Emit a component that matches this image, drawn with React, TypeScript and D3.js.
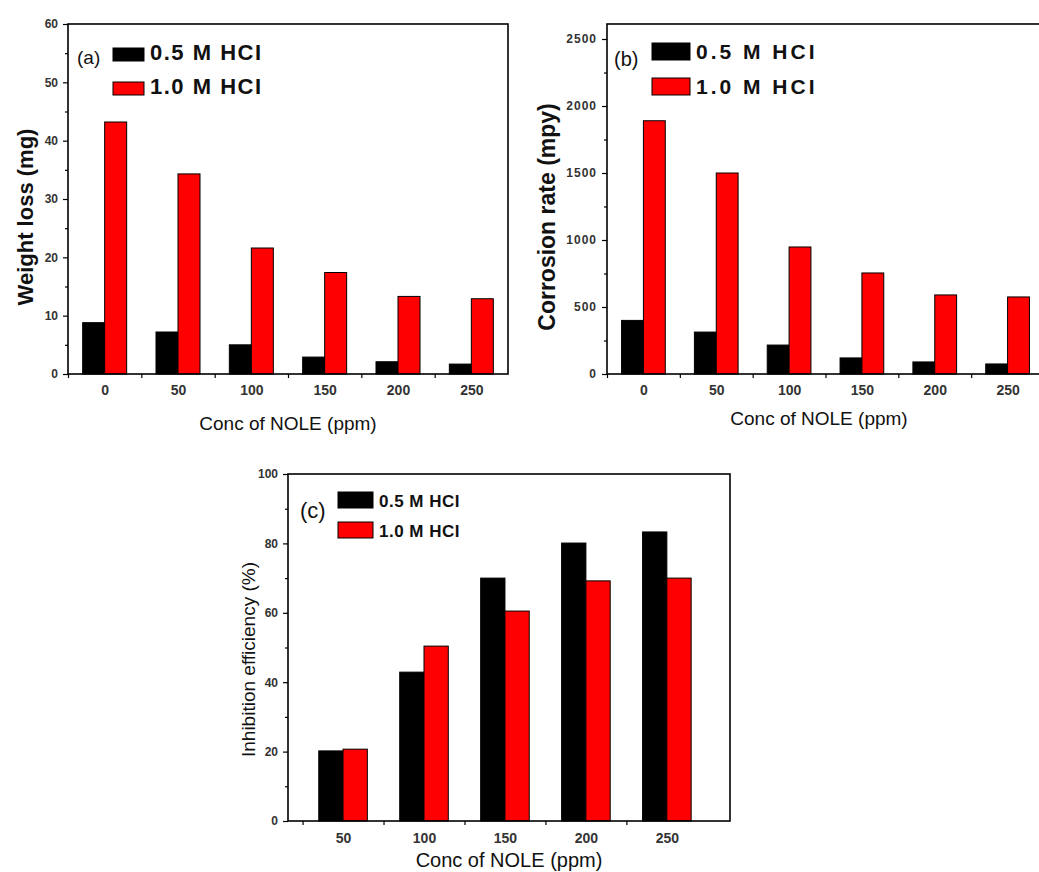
import React, { useEffect, useRef } from 'react';
import * as d3 from 'd3';

const concAB = [0, 50, 100, 150, 200, 250];
const weightLoss05 = [8.8, 7.2, 5.0, 2.9, 2.1, 1.7];
const weightLoss10 = [43.2, 34.3, 21.6, 17.4, 13.3, 12.9];
const corrosion05 = [400, 313, 216, 120, 90, 75];
const corrosion10 = [1890, 1500, 948, 754, 590, 575];
const concC = [50, 100, 150, 200, 250];
const efficiency05 = [20.2, 42.9, 70.0, 80.1, 83.3];
const efficiency10 = [20.7, 50.4, 60.5, 69.2, 70.0];
const seriesNames = ['0.5 M HCI', '1.0 M HCI'];
const seriesColors = ['#000000', '#ff0000'];
const yTicksA = [0, 10, 20, 30, 40, 50, 60];
const yTicksB = [0, 500, 1000, 1500, 2000, 2500];
const yTicksC = [0, 20, 40, 60, 80, 100];
const xLabel = 'Conc of NOLE (ppm)';

const FONT = '"Liberation Sans", Arial, sans-serif';
const BAR = 15; // bar width in ppm units

type Panel = {
  tag: string;
  categories: number[];
  values: number[][];
  yTicks: number[];
  yMinorStep: number;
  xDomain: [number, number];
  yDomain: [number, number];
  left: number; right: number; top: number; bottom: number;
  yTitle: string; yTitleBold: boolean; yTitleSize: number; yTitleX: number;
  xTitleY: number; xTitleSize: number;
  yTickSize: number; yTickSpacing: number; xTickSize: number; xTickY: number;
  legend: { tagX: number; tagY: number; tagSize: number; boxX: number; boxW: number; boxH: number; row1: number; row2: number; textSize: number; spacing: number };
};

const panels: Panel[] = [
  {
    tag: '(a)', categories: concAB, values: [weightLoss05, weightLoss10], yTicks: yTicksA, yMinorStep: 5,
    xDomain: [-25, 275], yDomain: [0, 60], left: 68, right: 508, top: 24, bottom: 374,
    yTitle: 'Weight loss (mg)', yTitleBold: true, yTitleSize: 22, yTitleX: 33,
    xTitleY: 430, xTitleSize: 19, yTickSize: 12, yTickSpacing: 0, xTickSize: 14, xTickY: 21,
    legend: { tagX: 77, tagY: 64, tagSize: 19, boxX: 113, boxW: 31, boxH: 13, row1: 48, row2: 82, textSize: 22, spacing: 1.5 },
  },
  {
    tag: '(b)', categories: concAB, values: [corrosion05, corrosion10], yTicks: yTicksB, yMinorStep: 250,
    xDomain: [-25, 275], yDomain: [0, 2612], left: 607, right: 1044, top: 24, bottom: 374,
    yTitle: 'Corrosion rate (mpy)', yTitleBold: true, yTitleSize: 23, yTitleX: 555,
    xTitleY: 425, xTitleSize: 19, yTickSize: 12, yTickSpacing: 1, xTickSize: 14, xTickY: 21,
    legend: { tagX: 614, tagY: 66, tagSize: 20, boxX: 652, boxW: 38, boxH: 17, row1: 43, row2: 78, textSize: 21, spacing: 3 },
  },
  {
    tag: '(c)', categories: concC, values: [efficiency05, efficiency10], yTicks: yTicksC, yMinorStep: 10,
    xDomain: [16, 289], yDomain: [0, 100], left: 288, right: 730, top: 474, bottom: 821,
    yTitle: 'Inhibition efficiency (%)', yTitleBold: false, yTitleSize: 19, yTitleX: 255,
    xTitleY: 867, xTitleSize: 20, yTickSize: 12, yTickSpacing: 0, xTickSize: 14, xTickY: 22,
    legend: { tagX: 300, tagY: 518, tagSize: 22, boxX: 338, boxW: 35, boxH: 16, row1: 492, row2: 522, textSize: 17, spacing: 0.5 },
  },
];

const drawPanel = (svg: d3.Selection<SVGSVGElement, unknown, null, undefined>, p: Panel) => {
  const g = svg.append('g');
  const x = d3.scaleLinear().domain(p.xDomain).range([p.left, p.right]);
  const y = d3.scaleLinear().domain(p.yDomain).range([p.bottom, p.top]);

  // bars
  p.values.forEach((vals, s) => {
    g.selectAll(null)
      .data(vals)
      .enter()
      .append('rect')
      .attr('x', (d, i) => x(p.categories[i] + (s === 0 ? -BAR : 0)))
      .attr('width', x(BAR) - x(0))
      .attr('y', (d) => y(d))
      .attr('height', (d) => y(0) - y(d))
      .attr('fill', seriesColors[s])
      .attr('stroke', '#000')
      .attr('stroke-width', 1);
  });

  // frame
  g.append('rect')
    .attr('x', p.left).attr('y', p.top)
    .attr('width', p.right - p.left).attr('height', p.bottom - p.top)
    .attr('fill', 'none').attr('stroke', '#000').attr('stroke-width', 1.6);

  // y axis
  const yAxis = g.append('g').attr('transform', `translate(${p.left},0)`)
    .call(d3.axisLeft(y).tickValues(p.yTicks).tickSize(5).tickPadding(5).tickFormat(d3.format('d')));
  const minors = d3.range(p.yDomain[0] + p.yMinorStep, p.yTicks[p.yTicks.length - 1], p.yMinorStep * 2);
  const yMinor = g.append('g').attr('transform', `translate(${p.left},0)`)
    .call(d3.axisLeft(y).tickValues(minors).tickSize(3).tickFormat(() => ''));
  [yAxis, yMinor].forEach((a) => a.select('.domain').remove());
  yAxis.selectAll('text')
    .attr('font-family', FONT).attr('font-size', p.yTickSize).attr('font-weight', 'bold')
    .attr('letter-spacing', p.yTickSpacing).attr('fill', '#333');

  // x axis: labels at categories, ticks halfway between
  const xAxis = g.append('g').attr('transform', `translate(0,${p.bottom})`)
    .call(d3.axisBottom(x).tickValues(p.categories).tickSize(0).tickFormat(d3.format('d')));
  xAxis.select('.domain').remove();
  xAxis.selectAll('text')
    .attr('y', p.xTickY).attr('dy', 0)
    .attr('font-family', FONT).attr('font-size', p.xTickSize).attr('font-weight', 'bold').attr('fill', '#333');
  const mids = p.categories.map((c) => c - 25);
  const xMinor = g.append('g').attr('transform', `translate(0,${p.bottom})`)
    .call(d3.axisBottom(x).tickValues(mids).tickSize(4).tickFormat(() => ''));
  xMinor.select('.domain').remove();
  svg.selectAll('.tick line').attr('stroke-width', 1.2);

  // titles
  g.append('text')
    .attr('x', (p.left + Math.min(p.right, 1039)) / 2 - (p.tag === '(b)' ? 4 : 0))
    .attr('y', p.xTitleY)
    .attr('text-anchor', 'middle')
    .attr('font-family', FONT).attr('font-size', p.xTitleSize).attr('fill', '#111')
    .text(xLabel);
  const ty = (p.top + p.bottom) / 2 + (p.tag === '(c)' ? 12 : 18);
  g.append('text')
    .attr('transform', `translate(${p.yTitleX},${ty}) rotate(-90)`)
    .attr('text-anchor', 'middle')
    .attr('font-family', FONT).attr('font-size', p.yTitleSize)
    .attr('font-weight', p.yTitleBold ? 'bold' : 'normal').attr('fill', '#111')
    .text(p.yTitle);

  // legend
  const L = p.legend;
  g.append('text').attr('x', L.tagX).attr('y', L.tagY)
    .attr('font-family', FONT).attr('font-size', L.tagSize).attr('fill', '#111').text(p.tag);
  [L.row1, L.row2].forEach((ry, s) => {
    g.append('rect').attr('x', L.boxX).attr('y', ry).attr('width', L.boxW).attr('height', L.boxH)
      .attr('fill', seriesColors[s]).attr('stroke', '#000').attr('stroke-width', 1);
    g.append('text').attr('x', L.boxX + L.boxW + 6).attr('y', ry + L.boxH - 1)
      .attr('font-family', FONT).attr('font-size', L.textSize).attr('font-weight', 'bold')
      .attr('letter-spacing', L.spacing).attr('fill', '#111')
      .text(seriesNames[s]);
  });
};

const App = () => {
  const ref = useRef<SVGSVGElement>(null);

  useEffect(() => {
    const svg = d3.select(ref.current as SVGSVGElement);
    svg.selectAll('*').remove();
    svg.append('rect').attr('width', 1039).attr('height', 872).attr('fill', '#fff');
    panels.forEach((p) => drawPanel(svg, p));
  }, []);

  return (
    <svg ref={ref} width={1039} height={872} style={{ position: 'absolute', left: 0, top: 0 }}></svg>
  );
};

export default App;
